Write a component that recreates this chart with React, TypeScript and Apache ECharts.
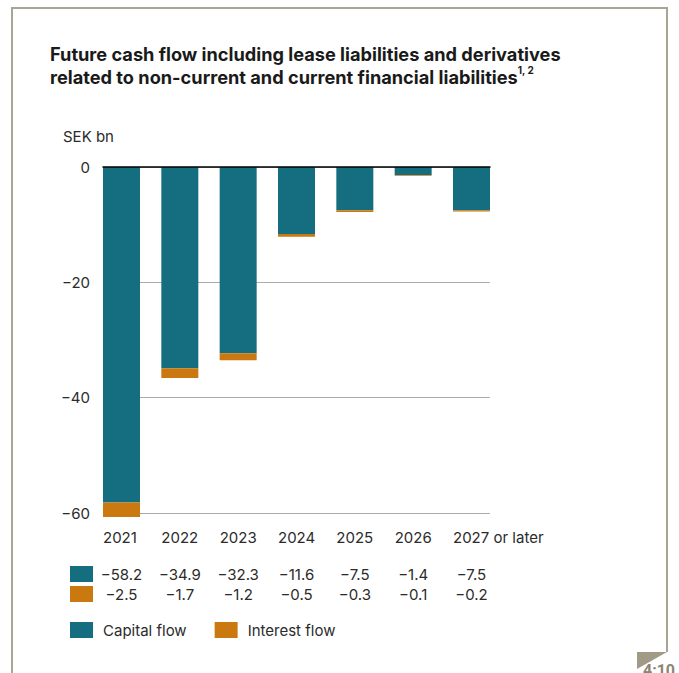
import React, { useEffect, useRef } from "react";
import * as echarts from "echarts";

const years = ["2021", "2022", "2023", "2024", "2025", "2026", "2027 or later"];
const capitalFlow = [-58.2, -34.9, -32.3, -11.6, -7.5, -1.4, -7.5];
const interestFlow = [-2.5, -1.7, -1.2, -0.5, -0.3, -0.1, -0.2];
const seriesNames = ["Capital flow", "Interest flow"];
const yMin = -60;
const yMax = 0;
const yStep = 20;

const TEAL = "#146e80";
const ORANGE = "#c9790f";
const TEXT = "#2b2b2b";
const FONT = "Inter";

const fmt = (v: number) => v.toFixed(1).replace("-", "\u2212");

export default function App() {
  const ref = useRef<HTMLDivElement>(null);
  useEffect(() => {
    if (!ref.current) return;
    const chart = echarts.init(ref.current, null, { renderer: "svg" });
    const plotLeft = 103;
    const plotWidth = 387;
    const barW = 37;
    const band = (plotWidth - barW) / (years.length - 1);
    const g0Left = plotLeft - (band - barW) / 2;
    const g0Width = band * years.length;
    const top = 167;
    const height = 346;

    const valueRowAxis = (offset: number, vals: number[]) => ({
      type: "category",
      gridIndex: 0,
      data: years,
      position: "bottom",
      offset,
      axisLine: { show: false },
      axisTick: { show: false },
      splitLine: { show: false },
      axisLabel: {
        interval: 0,
        margin: 17,
        fontSize: 15,
        fontFamily: FONT,
        color: TEXT,
        formatter: (_v: string, i: number) => fmt(vals[i]),
      },
    });

    chart.setOption({
      animation: false,
      backgroundColor: "#ffffff",
      title: [
        {
          text:
            "Future cash flow including lease liabilities and derivatives\nrelated to non-current and current financial liabilities{sup|1, 2}",
          left: 50,
          top: 42,
          padding: 0,
          textStyle: {
            fontSize: 18.2,
            fontWeight: "bold",
            fontFamily: FONT,
            color: "#1a1a1a",
            lineHeight: 23,
            rich: {
              sup: {
                fontSize: 10,
                fontWeight: "bold",
                fontFamily: FONT,
                color: "#1a1a1a",
                verticalAlign: "top",
                lineHeight: 14,
              },
            },
          },
        },
        {
          text: "SEK bn",
          left: 63,
          top: 129,
          padding: 0,
          textStyle: { fontSize: 15, fontWeight: "normal", fontFamily: FONT, color: TEXT },
        },
      ],
      graphic: [
        {
          type: "polyline",
          silent: true,
          z: -10,
          shape: { points: [[12, 690], [12, 8], [667, 8], [667, 652]] },
          style: { stroke: "#a9a594", lineWidth: 2, fill: null },
        },
        {
          type: "polygon",
          silent: true,
          shape: { points: [[637, 652], [667, 652], [637, 669]] },
          style: { fill: "#a09a86" },
        },
        {
          type: "text",
          silent: true,
          x: 643,
          y: 662,
          style: { text: "4:10", fontSize: 16, fontWeight: "bold", fontFamily: "Roboto", fill: "#8c8672" },
        },
      ],
      legend: [
        {
          orient: "vertical",
          left: 70,
          top: 566,
          itemWidth: 23,
          itemHeight: 16,
          itemGap: 4,
          icon: "rect",
          selectedMode: false,
          padding: 0,
          data: seriesNames,
          formatter: () => "",
          textStyle: { fontSize: 10, lineHeight: 16 },
        },
        {
          orient: "horizontal",
          left: 70,
          top: 622,
          itemWidth: 23,
          itemHeight: 16,
          itemGap: 28,
          icon: "rect",
          selectedMode: false,
          padding: 0,
          data: seriesNames,
          textStyle: {
            fontSize: 15,
            fontFamily: FONT,
            color: TEXT,
            lineHeight: 16,
            padding: [0, 0, 0, 5],
          },
        },
      ],
      grid: [
        { left: g0Left, width: g0Width, top, height, containLabel: false },
        { left: plotLeft, width: plotWidth, top, height, containLabel: false },
      ],
      xAxis: [
        {
          type: "category",
          gridIndex: 0,
          data: years,
          position: "bottom",
          axisLine: { show: false },
          axisTick: { show: false },
          splitLine: { show: false },
          axisLabel: {
            interval: 0,
            margin: 17,
            formatter: (v: string) => `{y|${v}}`,
            rich: {
              y: { width: barW, align: "left", fontSize: 15, fontFamily: FONT, color: TEXT },
            },
          },
        },
        {
          type: "value",
          gridIndex: 1,
          min: 0,
          max: 1,
          position: "top",
          z: 10,
          axisLine: { show: true, onZero: false, lineStyle: { color: "#000000", width: 1.5 } },
          axisTick: { show: false },
          axisLabel: { show: false },
          splitLine: { show: false },
        },
        valueRowAxis(37, capitalFlow),
        valueRowAxis(56.5, interestFlow),
      ],
      yAxis: [
        { type: "value", gridIndex: 0, min: yMin, max: yMax, interval: yStep, show: false },
        {
          type: "value",
          gridIndex: 1,
          min: yMin,
          max: yMax,
          interval: yStep,
          axisLine: { show: false },
          axisTick: { show: false },
          axisLabel: {
            margin: 13,
            fontSize: 15,
            fontFamily: FONT,
            color: TEXT,
            formatter: (v: number) => String(v).replace("-", "\u2212"),
          },
          splitLine: { lineStyle: { color: "#ababab", width: 1 } },
        },
      ],
      series: [
        {
          name: seriesNames[0],
          type: "bar",
          xAxisIndex: 0,
          yAxisIndex: 0,
          stack: "flow",
          barWidth: barW,
          clip: false,
          itemStyle: { color: TEAL },
          data: capitalFlow,
        },
        {
          name: seriesNames[1],
          type: "bar",
          xAxisIndex: 0,
          yAxisIndex: 0,
          stack: "flow",
          barWidth: barW,
          clip: false,
          itemStyle: { color: ORANGE },
          data: interestFlow,
        },
      ],
    });
    return () => chart.dispose();
  }, []);
  return (
    <div
      ref={ref}
      style={{ position: "absolute", left: 0, top: 0, width: 679, height: 673 }}
    />
  );
}
